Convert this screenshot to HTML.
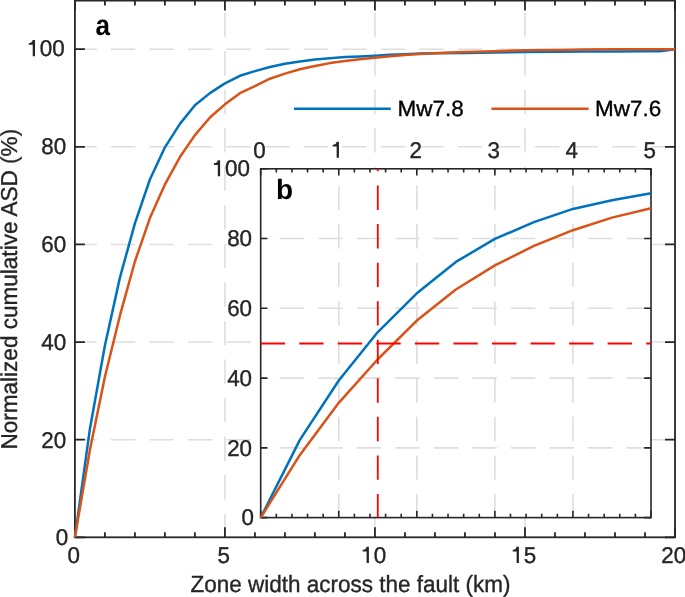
<!DOCTYPE html>
<html><head><meta charset="utf-8"><style>
html,body{margin:0;padding:0;background:#fff;width:685px;height:597px;overflow:hidden}
svg{display:block;will-change:transform}
text{font-family:"Liberation Sans",sans-serif;text-rendering:geometricPrecision}
</style></head><body>
<svg width="685" height="597" viewBox="0 0 685 597" font-size="22" fill="#262626"><g stroke="#dedede" stroke-width="1.6" stroke-dasharray="24.35 14.2" fill="none"><line x1="224.93" y1="537.3" x2="224.93" y2="0.6" stroke-dashoffset="0.7"/><line x1="374.95" y1="537.3" x2="374.95" y2="0.6" stroke-dashoffset="0.7"/><line x1="524.98" y1="537.3" x2="524.98" y2="0.6" stroke-dashoffset="0.7"/><line x1="675" y1="439.68" x2="74.9" y2="439.68"/><line x1="675" y1="342.06" x2="74.9" y2="342.06"/><line x1="675" y1="244.44" x2="74.9" y2="244.44"/><line x1="675" y1="146.82" x2="74.9" y2="146.82"/><line x1="675" y1="49.2" x2="74.9" y2="49.2"/></g><path d="M74.9 537.3v-10M74.9 0.6v10M104.91 537.3v-5M104.91 0.6v5M134.91 537.3v-5M134.91 0.6v5M164.92 537.3v-5M164.92 0.6v5M194.92 537.3v-5M194.92 0.6v5M224.93 537.3v-10M224.93 0.6v10M254.93 537.3v-5M254.93 0.6v5M284.94 537.3v-5M284.94 0.6v5M314.94 537.3v-5M314.94 0.6v5M344.95 537.3v-5M344.95 0.6v5M374.95 537.3v-10M374.95 0.6v10M404.96 537.3v-5M404.96 0.6v5M434.96 537.3v-5M434.96 0.6v5M464.97 537.3v-5M464.97 0.6v5M494.97 537.3v-5M494.97 0.6v5M524.98 537.3v-10M524.98 0.6v10M554.98 537.3v-5M554.98 0.6v5M584.99 537.3v-5M584.99 0.6v5M614.99 537.3v-5M614.99 0.6v5M645 537.3v-5M645 0.6v5M675 537.3v-10M675 0.6v10M74.9 537.3h10M675 537.3h-10M74.9 439.68h10M675 439.68h-10M74.9 342.06h10M675 342.06h-10M74.9 244.44h10M675 244.44h-10M74.9 146.82h10M675 146.82h-10M74.9 49.2h10M675 49.2h-10" stroke="#262626" stroke-width="1.8" fill="none"/><rect x="74.9" y="0.6" width="600.1" height="536.7" stroke="#262626" stroke-width="1.8" fill="none"/><polyline points="74.9,537.3 89.9,428.94 104.91,345.48 119.91,277.63 134.91,223.45 149.91,179.52 164.92,147.31 179.92,123.88 194.92,105.33 209.92,93.13 224.93,83.37 239.93,75.8 254.93,71.16 269.93,67.02 284.94,63.84 299.94,61.5 314.94,59.6 329.94,58.23 344.95,57.01 359.95,56.42 374.95,55.64 389.95,54.81 404.96,54.13 419.96,53.59 434.96,53.3 464.97,52.96 494.97,52.52 524.98,52.08 554.98,51.74 584.99,51.54 614.99,51.45 645,51.35 660,51.15 675,49.2" fill="none" stroke="#0072bd" stroke-width="2.5" stroke-linejoin="round"/><polyline points="74.9,537.3 89.9,449.93 104.91,376.72 119.91,315.7 134.91,261.52 149.91,218.08 164.92,184.4 179.92,157.07 194.92,135.11 209.92,117.53 224.93,104.36 239.93,93.13 254.93,86.05 269.93,78.73 284.94,73.6 299.94,69.21 314.94,65.99 329.94,63.11 344.95,60.91 359.95,59.21 374.95,57.74 389.95,56.28 404.96,55.06 419.96,54.08 434.96,53.35 449.96,52.62 464.97,52.03 494.97,51.15 524.98,50.37 554.98,49.88 584.99,49.59 614.99,49.35 645,49.2 675,49.2" fill="none" stroke="#d95319" stroke-width="2.5" stroke-linejoin="round"/><path d="M294 108.8H390.8" stroke="#0072bd" stroke-width="2.4"/><path d="M491.4 108.8H588.6" stroke="#d95319" stroke-width="2.4"/><g><text transform="translate(68.2 545.25) scale(1 1.02)" font-size="22.4" text-anchor="end" stroke="#262626" stroke-width="0.35">0</text><text transform="translate(66.18 447.53) scale(1 1.02)" font-size="22.4" text-anchor="end" stroke="#262626" stroke-width="0.35">20</text><text transform="translate(66.18 349.86) scale(1 1.02)" font-size="22.4" text-anchor="end" stroke="#262626" stroke-width="0.35">40</text><text transform="translate(66.18 252.24) scale(1 1.02)" font-size="22.4" text-anchor="end" stroke="#262626" stroke-width="0.35">60</text><text transform="translate(66.18 154.47) scale(1 1.02)" font-size="22.4" text-anchor="end" stroke="#262626" stroke-width="0.35">80</text><g transform="translate(64.78 56.15) scale(1 1.02)"><text font-size="22.4" text-anchor="end" stroke="#262626" stroke-width="0.35"> 00</text><path transform="translate(-37.37 0) scale(0.0224 -0.0224)" d="M340 703L340 0L237 0L237 495L61 495L61 568C176 583 211 600 235 703Z"/></g><text transform="translate(73.7 562.9) scale(1 1.02)" font-size="22.4" text-anchor="middle" stroke="#262626" stroke-width="0.35">0</text><text transform="translate(223.73 562.9) scale(1 1.02)" font-size="22.4" text-anchor="middle" stroke="#262626" stroke-width="0.35">5</text><g transform="translate(373.75 562.9) scale(1 1.02)"><text font-size="22.4" text-anchor="middle" stroke="#262626" stroke-width="0.35"> 0</text><path transform="translate(-12.46 0) scale(0.0224 -0.0224)" d="M340 703L340 0L237 0L237 495L61 495L61 568C176 583 211 600 235 703Z"/></g><g transform="translate(523.77 562.9) scale(1 1.02)"><text font-size="22.4" text-anchor="middle" stroke="#262626" stroke-width="0.35"> 5</text><path transform="translate(-12.46 0) scale(0.0224 -0.0224)" d="M340 703L340 0L237 0L237 495L61 495L61 568C176 583 211 600 235 703Z"/></g><text transform="translate(673.8 562.9) scale(1 1.02)" font-size="22.4" text-anchor="middle" stroke="#262626" stroke-width="0.35">20</text></g><text transform="translate(190.4 592) scale(1 1.04)" font-size="22.5" stroke="#262626" stroke-width="0.35">Zone width across the fault (km)</text><text transform="translate(16.8 449.6) rotate(-90) scale(1 1.02)" font-size="22.55" stroke="#262626" stroke-width="0.35">Normalized cumulative ASD (%)</text><text transform="translate(397.55 116) scale(1 0.98)" font-size="22.5" fill="#000" stroke="#000" stroke-width="0.35">Mw7.8</text><text transform="translate(594.95 116) scale(1 0.98)" font-size="22.5" fill="#000" stroke="#000" stroke-width="0.35">Mw7.6</text><text transform="translate(95.4 34.6) scale(0.93 1.03)" font-size="28" fill="#000" font-weight="bold">a</text><rect x="260.7" y="168.8" width="390.3" height="348.8" fill="#fff"/><g stroke="#dedede" stroke-width="1.6" stroke-dasharray="24.35 14.2" fill="none"><line x1="338.76" y1="517.6" x2="338.76" y2="168.8" stroke-dashoffset="0.7"/><line x1="416.82" y1="517.6" x2="416.82" y2="168.8" stroke-dashoffset="0.7"/><line x1="494.88" y1="517.6" x2="494.88" y2="168.8" stroke-dashoffset="0.7"/><line x1="572.94" y1="517.6" x2="572.94" y2="168.8" stroke-dashoffset="0.7"/><line x1="651" y1="447.84" x2="260.7" y2="447.84"/><line x1="651" y1="378.08" x2="260.7" y2="378.08"/><line x1="651" y1="308.32" x2="260.7" y2="308.32"/><line x1="651" y1="238.56" x2="260.7" y2="238.56"/></g><path d="M260.7 517.6v-6.8M260.7 168.8v6.8M276.31 517.6v-3.8M276.31 168.8v3.8M291.92 517.6v-3.8M291.92 168.8v3.8M307.54 517.6v-3.8M307.54 168.8v3.8M323.15 517.6v-3.8M323.15 168.8v3.8M338.76 517.6v-6.8M338.76 168.8v6.8M354.37 517.6v-3.8M354.37 168.8v3.8M369.98 517.6v-3.8M369.98 168.8v3.8M385.6 517.6v-3.8M385.6 168.8v3.8M401.21 517.6v-3.8M401.21 168.8v3.8M416.82 517.6v-6.8M416.82 168.8v6.8M432.43 517.6v-3.8M432.43 168.8v3.8M448.04 517.6v-3.8M448.04 168.8v3.8M463.66 517.6v-3.8M463.66 168.8v3.8M479.27 517.6v-3.8M479.27 168.8v3.8M494.88 517.6v-6.8M494.88 168.8v6.8M510.49 517.6v-3.8M510.49 168.8v3.8M526.1 517.6v-3.8M526.1 168.8v3.8M541.72 517.6v-3.8M541.72 168.8v3.8M557.33 517.6v-3.8M557.33 168.8v3.8M572.94 517.6v-6.8M572.94 168.8v6.8M588.55 517.6v-3.8M588.55 168.8v3.8M604.16 517.6v-3.8M604.16 168.8v3.8M619.78 517.6v-3.8M619.78 168.8v3.8M635.39 517.6v-3.8M635.39 168.8v3.8M651 517.6v-6.8M651 168.8v6.8M260.7 517.6h6.8M651 517.6h-6.8M260.7 447.84h6.8M651 447.84h-6.8M260.7 378.08h6.8M651 378.08h-6.8M260.7 308.32h6.8M651 308.32h-6.8M260.7 238.56h6.8M651 238.56h-6.8M260.7 168.8h6.8M651 168.8h-6.8" stroke="#262626" stroke-width="1.6" fill="none"/><rect x="260.7" y="168.8" width="390.3" height="348.8" stroke="#262626" stroke-width="1.6" fill="none"/><polyline points="260.7,517.6 299.73,440.17 338.76,380.52 377.79,332.04 416.82,293.32 455.85,261.93 494.88,238.91 533.91,222.17 572.94,208.91 611.97,200.19 651,193.22" fill="none" stroke="#0072bd" stroke-width="2.5" stroke-linejoin="round"/><polyline points="260.7,517.6 299.73,455.16 338.76,402.84 377.79,359.24 416.82,320.53 455.85,289.48 494.88,265.42 533.91,245.88 572.94,230.19 611.97,217.63 651,208.21" fill="none" stroke="#d95319" stroke-width="2.5" stroke-linejoin="round"/><g stroke="#f00" stroke-width="1.8" stroke-dasharray="24.35 14.2" fill="none"><path d="M377.79 517.6V168.8" stroke-dashoffset="0.7"/><path d="M260.7 343.5H651"/></g><g><text transform="translate(253.96 525.3) scale(1 1.02)" font-size="22.4" text-anchor="end" stroke="#262626" stroke-width="0.35">0</text><text transform="translate(252.06 455.54) scale(1 1.02)" font-size="22.4" text-anchor="end" stroke="#262626" stroke-width="0.35">20</text><text transform="translate(252.06 385.78) scale(1 1.02)" font-size="22.4" text-anchor="end" stroke="#262626" stroke-width="0.35">40</text><text transform="translate(252.06 316.02) scale(1 1.02)" font-size="22.4" text-anchor="end" stroke="#262626" stroke-width="0.35">60</text><text transform="translate(252.06 246.36) scale(1 1.02)" font-size="22.4" text-anchor="end" stroke="#262626" stroke-width="0.35">80</text><g transform="translate(249.86 176.3) scale(1 1.02)"><text font-size="22.4" text-anchor="end" stroke="#262626" stroke-width="0.35"> 00</text><path transform="translate(-37.37 0) scale(0.0224 -0.0224)" d="M340 703L340 0L237 0L237 495L61 495L61 568C176 583 211 600 235 703Z"/></g><text transform="translate(259.5 157.7) scale(1 1.02)" font-size="22.4" text-anchor="middle" stroke="#262626" stroke-width="0.35">0</text><g transform="translate(337.56 157.7) scale(1 1.02)"><text font-size="22.4" text-anchor="middle" stroke="#262626" stroke-width="0.35"> </text><path transform="translate(-6.23 0) scale(0.0224 -0.0224)" d="M340 703L340 0L237 0L237 495L61 495L61 568C176 583 211 600 235 703Z"/></g><text transform="translate(415.62 157.7) scale(1 1.02)" font-size="22.4" text-anchor="middle" stroke="#262626" stroke-width="0.35">2</text><text transform="translate(493.68 157.7) scale(1 1.02)" font-size="22.4" text-anchor="middle" stroke="#262626" stroke-width="0.35">3</text><text transform="translate(571.74 157.7) scale(1 1.02)" font-size="22.4" text-anchor="middle" stroke="#262626" stroke-width="0.35">4</text><text transform="translate(649.8 157.7) scale(1 1.02)" font-size="22.4" text-anchor="middle" stroke="#262626" stroke-width="0.35">5</text></g><text transform="translate(276 199.3) scale(1 1)" font-size="28" fill="#000" font-weight="bold">b</text></svg>
</body></html>
